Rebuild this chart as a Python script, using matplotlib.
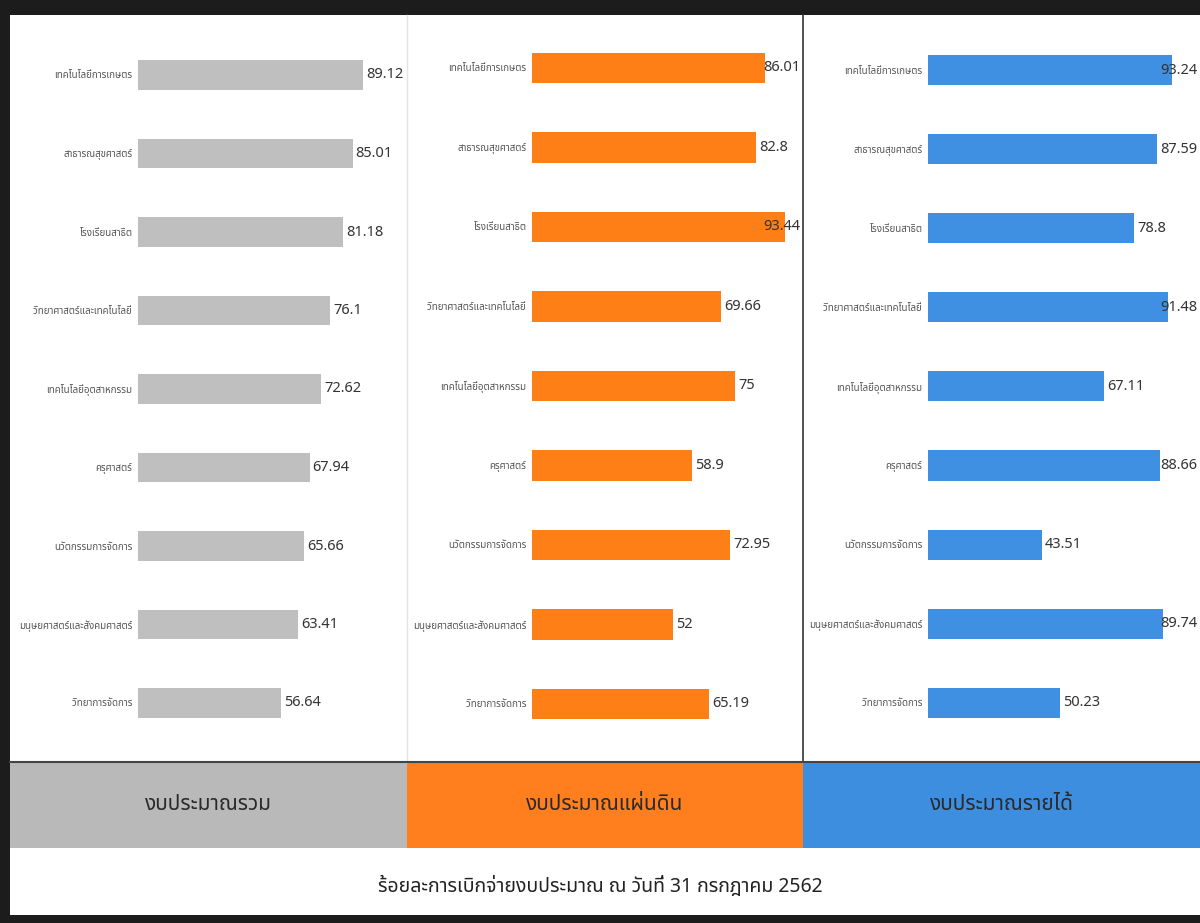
import matplotlib
matplotlib.use('Agg')
import matplotlib.pyplot as plt
from matplotlib.patches import Rectangle
from matplotlib.lines import Line2D

plt.rcParams['font.family'] = ['Noto Sans Thai', 'DejaVu Sans']

# Data
faculties_total = ['เทคโนโลยีการเกษตร', 'สาธารณสุขศาสตร์', 'โรงเรียนสาธิต',
                   'วิทยาศาสตร์และเทคโนโลยี', 'เทคโนโลยีอุตสาหกรรม', 'ครุศาสตร์',
                   'นวัตกรรมการจัดการ', 'มนุษยศาสตร์และสังคมศาสตร์', 'วิทยาการจัดการ']
faculties_gov = faculties_total
faculties_income = faculties_total

total_budget = [89.12, 85.01, 81.18, 76.1, 72.62, 67.94, 65.66, 63.41, 56.64]
gov_budget = [86.01, 82.8, 93.44, 69.66, 75, 58.9, 72.95, 52, 65.19]
income_budget = [93.24, 87.59, 78.8, 91.48, 67.11, 88.66, 43.51, 89.74, 50.23]

panel_names = ['งบประมาณรวม', 'งบประมาณแผ่นดิน', 'งบประมาณรายได้']
title = 'ร้อยละการเบิกจ่ายงบประมาณ ณ วันที่ 31 กรกฎาคม 2562'

W, H = 1200, 923
fig = plt.figure(figsize=(W / 100, H / 100), dpi=100)
fig.patch.set_facecolor('#1c1c1c')


def fx(px):
    return px / W


def fy(py):
    # pixel from top -> figure fraction from bottom
    return 1 - py / H


# white page inside the dark scan border
fig.patches.append(Rectangle((fx(10), fy(915)), fx(1190), (915 - 15) / H,
                             transform=fig.transFigure, facecolor='white',
                             edgecolor='none', zorder=-2))

bar_colors = ['#bfbfbf', '#ff7f17', '#3f8fe2']
band_colors = ['#b9b9b9', '#ff7f1e', '#3e8ee0']
panel_edges = [10, 407, 803, 1200]

# per panel: axes left px, axes width px (0..100), first row centre px, row step px
layout = [(138, 252.5, 75, 78.5), (532, 271, 68, 79.5), (928, 262, 70, 79.1)]
series = [(faculties_total, total_budget), (faculties_gov, gov_budget),
          (faculties_income, income_budget)]

top_px, bot_px = 15, 762
for k, ((labels, vals), (left, width, first, step)) in enumerate(zip(series, layout)):
    ax = fig.add_axes([fx(left), fy(bot_px), fx(width), (bot_px - top_px) / H])
    ax.patch.set_alpha(0)
    a = -(first - top_px) / step
    b = a + (bot_px - top_px) / step
    ax.barh(range(len(vals)), vals, height=0.38, color=bar_colors[k])
    ax.set_xlim(0, 100)
    ax.set_ylim(b, a)
    ax.set_yticks(range(len(labels)))
    ax.set_yticklabels(labels, fontsize=7, color='#555555')
    ax.tick_params(axis='y', length=0, pad=4)
    ax.set_xticks([])
    for s in ax.spines.values():
        s.set_visible(False)
    # value labels, kept inside the panel
    edge = (panel_edges[k + 1] - 3 - left) / width * 100
    for i, v in enumerate(vals):
        x = v + 1.2
        if x + 13 > edge:
            ax.text(edge, i, str(v), ha='right', va='center', fontsize=10.5,
                    color='#333333', clip_on=False)
        else:
            ax.text(x, i, str(v), ha='left', va='center', fontsize=10.5,
                    color='#333333', clip_on=False)

    # coloured band with the panel name
    x0, x1 = panel_edges[k], panel_edges[k + 1]
    fig.patches.append(Rectangle((fx(x0), fy(848)), fx(x1 - x0), (848 - 762) / H,
                                 transform=fig.transFigure, facecolor=band_colors[k],
                                 edgecolor='none', zorder=-1))
    fig.text(fx((x0 + x1) / 2), fy(805), panel_names[k], ha='center', va='center',
             fontsize=15, color='#2a2a2a')

# separators
fig.lines.append(Line2D([fx(407), fx(407)], [fy(15), fy(762)], transform=fig.transFigure,
                        color='#e4e4e4', lw=1))
fig.lines.append(Line2D([fx(803), fx(803)], [fy(15), fy(762)], transform=fig.transFigure,
                        color='#333333', lw=1.2))
fig.lines.append(Line2D([fx(10), fx(1200)], [fy(762), fy(762)], transform=fig.transFigure,
                        color='#444444', lw=1.5))

fig.text(0.5, fy(886), title, ha='center', va='center', fontsize=14, color='#222222')

fig.savefig('out.png', dpi=100)
